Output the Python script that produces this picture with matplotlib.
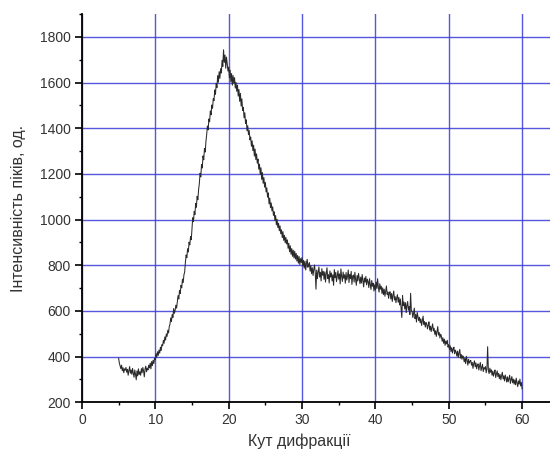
import numpy as np
import matplotlib.pyplot as plt
from matplotlib.ticker import MultipleLocator

# diffraction angle, 0.1 deg step from 5.0 to 60.0
angle = np.round(np.arange(50, 601) / 10.0, 1)

# intensity, one row per degree (x.0 ... x.9)
intensity = [
    392, 371, 358, 347, 362, 338, 351, 329, 346, 340,  # 5
    352, 331, 344, 318, 339, 356, 327, 341, 322, 348,  # 6
    326, 309, 341, 322, 298, 337, 315, 346, 321, 333,  # 7
    318, 347, 329, 352, 336, 311, 345, 358, 333, 349,  # 8
    341, 362, 350, 371, 346, 378, 360, 384, 369, 391,  # 9
    386, 412, 397, 421, 405, 428, 415, 441, 426, 452,  # 10
    447, 471, 458, 486, 472, 499, 488, 515, 503, 531,  # 11
    542, 569, 553, 584, 571, 610, 589, 603, 625, 612,  # 12
    638, 667, 652, 690, 676, 712, 701, 739, 724, 758,  # 13
    770, 812, 845, 833, 872, 858, 901, 889, 925, 912,  # 14
    962, 1008, 991, 1036, 1022, 1071, 1054, 1102, 1087, 1131,  # 15
    1158, 1203, 1187, 1241, 1226, 1279, 1262, 1311, 1296, 1342,  # 16
    1372, 1410, 1393, 1441, 1428, 1476, 1459, 1502, 1488, 1530,  # 17
    1521, 1568, 1549, 1597, 1578, 1631, 1602, 1648, 1619, 1661,  # 18
    1642, 1698, 1671, 1744, 1689, 1721, 1663, 1712, 1684, 1651,  # 19
    1668, 1621, 1655, 1603, 1640, 1589, 1631, 1598, 1622, 1576,  # 20
    1601, 1562, 1589, 1541, 1570, 1518, 1553, 1497, 1529, 1478,  # 21
    1492, 1446, 1468, 1421, 1437, 1389, 1411, 1372, 1390, 1349,  # 22
    1362, 1321, 1345, 1302, 1326, 1278, 1309, 1263, 1288, 1247,  # 23
    1265, 1221, 1243, 1198, 1227, 1176, 1206, 1159, 1184, 1142,  # 24
    1163, 1121, 1139, 1098, 1117, 1069, 1094, 1052, 1073, 1038,  # 25
    1056, 1019, 1034, 996, 1018, 977, 1001, 965, 984, 951,  # 26
    972, 938, 955, 921, 947, 909, 931, 898, 922, 893,  # 27
    911, 874, 896, 859, 885, 848, 873, 839, 866, 832,  # 28
    861, 827, 852, 818, 843, 809, 838, 803, 829, 812,  # 29
    834, 796, 821, 787, 818, 779, 809, 826, 791, 803,  # 30
    811, 774, 798, 763, 789, 755, 781, 801, 768, 695,  # 31
    779, 741, 772, 792, 748, 769, 731, 785, 756, 773,  # 32
    738, 771, 726, 764, 789, 742, 759, 722, 775, 748,  # 33
    766, 731, 758, 712, 781, 745, 769, 728, 753, 776,  # 34
    739, 762, 718, 784, 751, 729, 770, 743, 758, 721,  # 35
    768, 735, 751, 779, 724, 760, 741, 773, 716, 752,  # 36
    757, 726, 769, 738, 712, 755, 731, 764, 740, 719,  # 37
    748, 722, 759, 731, 705, 744, 726, 751, 714, 739,  # 38
    728, 702, 741, 715, 694, 733, 708, 721, 687, 714,  # 39
    691, 726, 698, 741, 703, 682, 719, 695, 708, 676,  # 40
    701, 671, 695, 664, 688, 709, 672, 683, 655, 679,  # 41
    684, 652, 676, 641, 669, 687, 648, 662, 636, 657,  # 42
    671, 638, 659, 626, 652, 614, 571, 668, 623, 639,  # 43
    608, 636, 592, 625, 641, 603, 619, 584, 677, 601,  # 44
    598, 571, 589, 612, 566, 584, 551, 593, 575, 557,  # 45
    572, 548, 565, 536, 558, 577, 541, 553, 529, 549,  # 46
    543, 521, 538, 552, 516, 533, 509, 528, 543, 512,  # 47
    524, 497, 513, 488, 509, 531, 494, 505, 481, 498,  # 48
    489, 467, 482, 458, 476, 449, 468, 455, 471, 441,  # 49
    452, 431, 447, 422, 439, 415, 433, 441, 412, 428,  # 50
    419, 402, 424, 396, 415, 431, 393, 409, 388, 404,  # 51
    398, 377, 392, 369, 401, 384, 362, 388, 371, 379,  # 52
    383, 362, 374, 348, 369, 381, 355, 372, 346, 363,  # 53
    368, 341, 359, 374, 338, 352, 366, 334, 351, 345,  # 54
    356, 329, 347, 443, 338, 325, 349, 331, 342, 318,  # 55
    336, 314, 329, 341, 308, 324, 337, 312, 326, 303,  # 56
    321, 298, 316, 331, 302, 315, 293, 319, 306, 288,  # 57
    311, 289, 304, 318, 282, 299, 312, 285, 301, 279,  # 58
    297, 276, 305, 284, 268, 293, 279, 301, 271, 286,  # 59
    258,                                               # 60
]

plt.rcParams['font.family'] = ['Liberation Sans', 'DejaVu Sans']

fig = plt.figure(figsize=(5.5, 4.57), dpi=100)
ax = fig.add_axes([0.149, 0.12, 0.851, 0.849])

ax.plot(angle, intensity, color='#2a2a2a', lw=0.75)

ax.set_xlim(0, 63.8)
ax.set_ylim(200, 1900)
ax.xaxis.set_major_locator(MultipleLocator(10))
ax.xaxis.set_minor_locator(MultipleLocator(5))
ax.yaxis.set_major_locator(MultipleLocator(200))
ax.yaxis.set_minor_locator(MultipleLocator(100))
ax.set_yticks(range(200, 1801, 200))

ax.grid(True, which='major', color='#3a3ad8', lw=1.0, alpha=0.85)
ax.set_axisbelow(True)
for s in ('top', 'right'):
    ax.spines[s].set_visible(False)
for s in ('left', 'bottom'):
    ax.spines[s].set_linewidth(1.3)

ax.tick_params(which='major', direction='out', length=5, width=1.2,
               labelsize=10, labelcolor='#333333', pad=3)
ax.tick_params(which='minor', direction='out', length=2.5, width=1.0)

ax.set_xlabel('Кут дифракції', fontsize=11.5, color='#333333')
ax.set_ylabel('Інтенсивність піків, од.', fontsize=11.5, color='#333333')
ax.xaxis.set_label_coords(0.464, -0.082)
ax.yaxis.set_label_coords(-0.12, 0.5)

fig.savefig('out.png', dpi=100)
